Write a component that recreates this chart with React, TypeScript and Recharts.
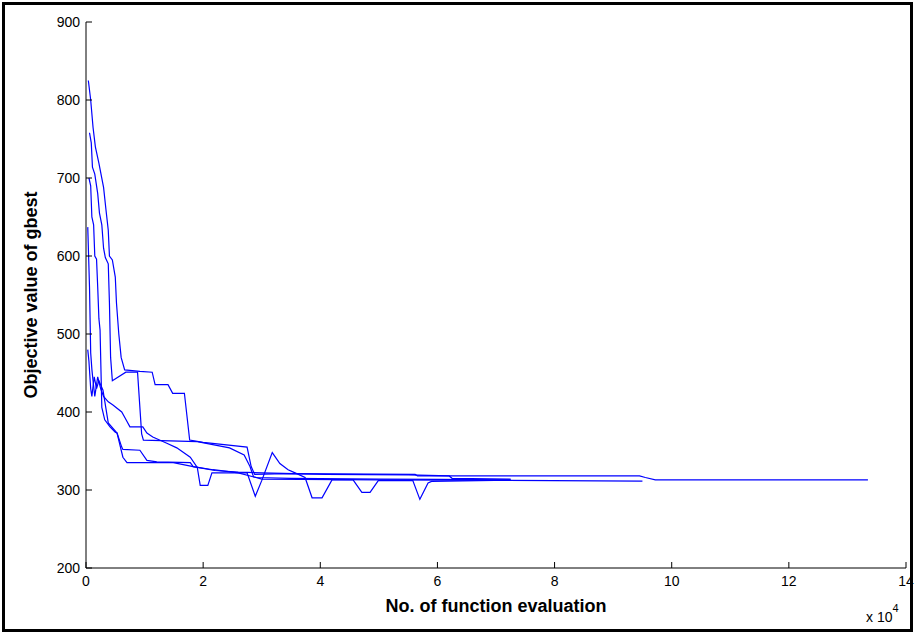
import React from "react";
import { LineChart, Line, XAxis, YAxis } from "recharts";

type Pt = { x: number; y: number };
const mk = (arr: number[][]): Pt[] => arr.map(([x, y]) => ({ x, y }));

const xTicks = [0, 2, 4, 6, 8, 10, 12, 14];
const yTicks = [200, 300, 400, 500, 600, 700, 800, 900];

const runA = mk([
  [0.04, 825], [0.08, 800], [0.12, 765], [0.16, 740], [0.22, 719], [0.3, 688], [0.34, 660], [0.38, 633],
  [0.4, 600], [0.45, 595], [0.5, 573], [0.52, 540], [0.56, 500], [0.6, 470], [0.66, 454], [0.92, 452],
  [1.13, 451], [1.18, 435], [1.4, 435], [1.48, 424], [1.68, 424], [1.77, 364], [2.0, 361], [2.75, 355],
  [2.82, 330], [2.88, 320], [3.4, 321], [5.62, 320], [5.66, 318], [9.45, 318], [9.55, 316], [9.72, 313],
  [13.35, 313],
]);

const runB = mk([
  [0.06, 758], [0.09, 745], [0.11, 714], [0.15, 705], [0.2, 680], [0.23, 655], [0.27, 640], [0.3, 610],
  [0.33, 598], [0.38, 590], [0.4, 540], [0.42, 470], [0.45, 440], [0.68, 451], [0.88, 451], [0.95, 372],
  [0.98, 364], [1.9, 362], [2.45, 354], [2.7, 345], [2.8, 330], [2.86, 317], [3.0, 314], [5.0, 313],
  [9.5, 311.5],
]);

const runC = mk([
  [0.03, 637], [0.06, 560], [0.08, 476], [0.1, 455], [0.12, 440], [0.15, 420], [0.2, 445], [0.25, 430],
  [0.3, 420], [0.38, 413], [0.46, 409], [0.61, 400], [0.67, 392], [0.75, 381], [0.97, 381], [1.04, 373],
  [1.14, 368], [1.38, 360], [1.55, 354], [1.78, 342], [1.9, 329], [1.95, 306], [2.08, 306], [2.15, 322],
  [2.75, 322], [2.89, 292], [3.0, 312], [3.18, 348], [3.31, 334], [3.45, 326], [3.57, 322], [3.74, 316],
  [3.86, 290], [4.03, 290], [4.2, 313], [4.56, 313], [4.71, 297], [4.85, 297], [4.99, 312], [5.58, 312],
  [5.7, 288], [5.84, 309], [5.9, 311], [7.25, 312.5],
]);

const runD = mk([
  [0.05, 700], [0.08, 690], [0.1, 650], [0.13, 640], [0.15, 600], [0.18, 596], [0.2, 560], [0.22, 520],
  [0.24, 505], [0.27, 406], [0.32, 390], [0.41, 381], [0.5, 374], [0.53, 373], [0.61, 355], [0.63, 352],
  [0.92, 351], [1.04, 338], [1.21, 336], [1.78, 335], [1.83, 330], [2.2, 325], [2.6, 323], [3.0, 322],
  [3.55, 321], [4.1, 320], [5.5, 319.5], [6.2, 318], [6.25, 315], [7.25, 314],
]);

const runE = mk([
  [0.03, 480], [0.05, 465], [0.08, 430], [0.1, 420], [0.14, 445], [0.18, 430], [0.22, 440], [0.29, 428],
  [0.38, 386], [0.53, 373], [0.63, 342], [0.7, 335], [1.49, 335], [1.83, 330], [2.17, 326], [2.6, 322],
  [2.9, 316], [3.5, 315], [5.0, 314], [6.0, 313.5], [7.25, 313],
]);

const runs = [runA, runB, runC, runD, runE];

const tickFont = "'Liberation Sans Narrow', 'Liberation Sans', Arial, sans-serif";
const labelFont = "'Liberation Sans', Arial, sans-serif";
const TL = 6;
const axisColor = "#000";

const BottomTick = (p: any) => (
  <g>
    <line x1={p.x} y1={p.y} x2={p.x} y2={p.y - TL} stroke={axisColor} />
    <text x={p.x} y={p.y + 18} textAnchor="middle" fontFamily={tickFont} fontSize={14} fill="#000">
      {p.payload.value}
    </text>
  </g>
);
const TopTick = (p: any) => (
  <line x1={p.x} y1={p.y} x2={p.x} y2={p.y + TL} stroke={axisColor} />
);
const LeftTick = (p: any) => (
  <g>
    <line x1={p.x} y1={p.y} x2={p.x + TL} y2={p.y} stroke={axisColor} />
    <text x={p.x - 6} y={p.y + 5} textAnchor="end" fontFamily={tickFont} fontSize={14} fill="#000">
      {p.payload.value}
    </text>
  </g>
);
const RightTick = (p: any) => (
  <line x1={p.x} y1={p.y} x2={p.x - TL} y2={p.y} stroke={axisColor} />
);

export default function App() {
  return (
    <div style={{ position: "absolute", left: 0, top: 0, width: 915, height: 634, background: "#fff" }}>
      <div
        style={{
          position: "absolute", left: 2, top: 2, width: 911, height: 630,
          border: "3px solid #000", boxSizing: "border-box", pointerEvents: "none",
        }}
      />
      <LineChart width={915} height={634} margin={{ top: 22, right: 9, bottom: 36, left: 0 }}>
        <XAxis
          dataKey="x" type="number" domain={[0, 14]} ticks={xTicks} allowDataOverflow
          height={30} tickSize={0} tickMargin={0} tickLine={false}
          axisLine={{ stroke: axisColor }} tick={<BottomTick />} interval={0}
        />
        <XAxis
          xAxisId="top" orientation="top" dataKey="x" type="number" domain={[0, 14]} ticks={xTicks}
          allowDataOverflow height={0} tickSize={0} tickMargin={0} tickLine={false}
          axisLine={{ stroke: axisColor }} tick={<TopTick />} interval={0}
        />
        <YAxis
          type="number" domain={[200, 900]} ticks={yTicks} allowDataOverflow width={86}
          tickSize={0} tickMargin={0} tickLine={false} axisLine={{ stroke: axisColor }}
          tick={<LeftTick />} interval={0}
        />
        <YAxis
          yAxisId="right" orientation="right" type="number" domain={[200, 900]} ticks={yTicks}
          allowDataOverflow width={0} tickSize={0} tickMargin={0} tickLine={false}
          axisLine={{ stroke: axisColor }} tick={<RightTick />} interval={0}
        />
        {runs.map((r, i) => (
          <Line
            key={i} data={r} dataKey="y" type="linear" stroke="#0000ff" strokeWidth={1.2}
            dot={false} activeDot={false} isAnimationActive={false}
          />
        ))}
        <Line
          data={runA} dataKey="y" xAxisId="top" yAxisId="right" stroke="none" dot={false}
          activeDot={false} isAnimationActive={false}
        />
      </LineChart>
      <div
        style={{
          position: "absolute", left: 86, width: 820, top: 596, textAlign: "center",
          fontFamily: labelFont, fontWeight: "bold", fontSize: 18, color: "#000",
        }}
      >
        No. of function evaluation
      </div>
      <div
        style={{
          position: "absolute", left: 31, top: 295, width: 0, height: 0,
        }}
      >
        <div
          style={{
            position: "absolute", left: 0, top: 0, transform: "translate(-50%, -50%) rotate(-90deg)",
            whiteSpace: "nowrap", fontFamily: labelFont, fontWeight: "bold", fontSize: 18, color: "#000",
          }}
        >
          Objective value of gbest
        </div>
      </div>
      <div
        style={{
          position: "absolute", left: 866, top: 609, fontFamily: tickFont, fontSize: 14, color: "#000",
          whiteSpace: "nowrap",
        }}
      >
        x 10<sup style={{ fontSize: 11, verticalAlign: "top", position: "relative", top: -7 }}>4</sup>
      </div>
    </div>
  );
}
